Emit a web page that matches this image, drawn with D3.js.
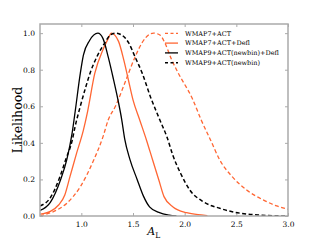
<!DOCTYPE html>
<html lang="en">

<head>
    <meta charset="UTF-8">
    <title>Lensing amplitude likelihood</title>
    <script src="https://cdn.jsdelivr.net/npm/d3@7"></script>

    <style>
        body { margin: 0; background: #fff; }
        text { font-family: "DejaVu Serif", serif; fill: #000; }
        .frame { fill: none; stroke: #aaa; stroke-width: 1.5px; }
        .tick line { stroke: #aaa; }
        .curve { fill: none; stroke-linejoin: round; }
    </style>
</head>

<body>

    <svg width="320" height="240"></svg>

    <script>

        // values: [A_L, likelihood]
        var wmap7Act = [[0.60, 0.002], [0.73, 0.024], [0.86, 0.07], [0.99, 0.16], [1.12, 0.306],
            [1.21, 0.434], [1.26, 0.525], [1.33, 0.60], [1.42, 0.726], [1.52, 0.87], [1.585, 0.945],
            [1.665, 0.995], [1.70, 1.0], [1.76, 0.99], [1.81, 0.945], [1.87, 0.86], [1.93, 0.79],
            [2.08, 0.635], [2.16, 0.525], [2.25, 0.416], [2.34, 0.306], [2.46, 0.215], [2.60, 0.142],
            [2.76, 0.088], [2.89, 0.055], [3.0, 0.037]];

        var wmap7ActDefl = [[0.60, 0.01], [0.70, 0.025], [0.78, 0.06], [0.84, 0.115], [0.89, 0.215],
            [0.955, 0.345], [1.02, 0.47], [1.06, 0.57], [1.13, 0.78], [1.21, 0.91], [1.26, 0.97],
            [1.29, 1.0], [1.36, 0.955], [1.41, 0.855], [1.455, 0.745], [1.50, 0.635], [1.565, 0.525],
            [1.63, 0.416], [1.69, 0.306], [1.75, 0.197], [1.80, 0.106], [1.89, 0.048], [2.02, 0.018],
            [2.18, 0.005], [2.22, 0.002]];

        var wmap9NewbinDefl = [[0.60, 0.03], [0.70, 0.075], [0.80, 0.20], [0.86, 0.31], [0.91, 0.45],
            [0.94, 0.57], [0.99, 0.78], [1.02, 0.88], [1.08, 0.96], [1.16, 1.0], [1.21, 0.97],
            [1.26, 0.87], [1.31, 0.75], [1.36, 0.62], [1.39, 0.53], [1.42, 0.42], [1.47, 0.31],
            [1.54, 0.20], [1.60, 0.11], [1.66, 0.05], [1.75, 0.02], [1.85, 0.005], [1.92, 0.0]];

        var wmap9Newbin = [[0.60, 0.055], [0.70, 0.10], [0.79, 0.21], [0.85, 0.31], [0.91, 0.41],
            [0.94, 0.49], [0.99, 0.60], [1.04, 0.70], [1.09, 0.79], [1.15, 0.87], [1.23, 0.95],
            [1.28, 0.99], [1.33, 1.0], [1.39, 0.99], [1.46, 0.945], [1.52, 0.87], [1.59, 0.78],
            [1.67, 0.65], [1.76, 0.525], [1.83, 0.43], [1.89, 0.325], [1.96, 0.234], [2.05, 0.142],
            [2.18, 0.078], [2.34, 0.042], [2.54, 0.015], [2.73, 0.005], [3.0, 0.0]];

        var seriesNames = ["WMAP7+ACT", "WMAP7+ACT+Defl", "WMAP9+ACT(newbin)+Defl", "WMAP9+ACT(newbin)"];
        var xTicks = [1.0, 1.5, 2.0, 2.5, 3.0];
        var yTicks = [0.0, 0.2, 0.4, 0.6, 0.8, 1.0];

        var series = [
            { name: seriesNames[0], values: wmap7Act, color: "#ff6633", dash: "4,2.5", width: 1.3 },
            { name: seriesNames[1], values: wmap7ActDefl, color: "#ff6633", dash: null, width: 1.3 },
            { name: seriesNames[2], values: wmap9NewbinDefl, color: "#000", dash: null, width: 1.3 },
            { name: seriesNames[3], values: wmap9Newbin, color: "#000", dash: "4,2.5", width: 1.5 }
        ];

        var svg = d3.select("svg"),
            margin = { top: 24, right: 32, bottom: 24, left: 40 },
            width = +svg.attr("width") - margin.left - margin.right,
            height = +svg.attr("height") - margin.top - margin.bottom;

        var x = d3.scaleLinear().domain([0.6, 3.0]).range([0, width]);
        var y = d3.scaleLinear().domain([0, 1.05]).range([height, 0]);

        var g = svg.append("g")
            .attr("transform", "translate(" + margin.left + "," + margin.top + ")");

        g.append("defs").append("clipPath").attr("id", "plotClip")
            .append("rect").attr("width", width).attr("height", height);

        // axes with inward ticks on all four sides
        function styleAxis(sel, showLabels) {
            sel.select(".domain").remove();
            sel.selectAll(".tick text")
                .style("font-size", "7.5px")
                .style("display", showLabels ? null : "none");
        }

        g.append("g")
            .attr("transform", "translate(0," + height + ")")
            .call(d3.axisBottom(x).tickValues(xTicks).tickFormat(d3.format(".1f")).tickSizeInner(-3).tickPadding(6))
            .call(styleAxis, true);

        g.append("g")
            .call(d3.axisTop(x).tickValues(xTicks).tickSizeInner(-3))
            .call(styleAxis, false);

        g.append("g")
            .call(d3.axisLeft(y).tickValues(yTicks).tickFormat(d3.format(".1f")).tickSizeInner(-3).tickPadding(5))
            .call(styleAxis, true);

        g.append("g")
            .attr("transform", "translate(" + width + ",0)")
            .call(d3.axisRight(y).tickValues(yTicks).tickSizeInner(-3))
            .call(styleAxis, false);

        g.selectAll(".tick text").attr("fill", "#000");

        var line = d3.line()
            .x(function(d) { return x(d[0]); })
            .y(function(d) { return y(d[1]); })
            .curve(d3.curveMonotoneX);

        g.append("g")
            .attr("clip-path", "url(#plotClip)")
            .selectAll("path")
            .data(series)
            .enter().append("path")
            .attr("class", "curve")
            .attr("d", function(d) { return line(d.values); })
            .attr("stroke", function(d) { return d.color; })
            .attr("stroke-width", function(d) { return d.width; })
            .attr("stroke-dasharray", function(d) { return d.dash; });

        g.append("rect")
            .attr("class", "frame")
            .attr("width", width)
            .attr("height", height);

        // legend, no box
        var legend = g.append("g")
            .attr("transform", "translate(125,9.3)")
            .selectAll("g")
            .data(series)
            .enter().append("g")
            .attr("transform", function(d, i) { return "translate(0," + (i * 9.8) + ")"; });

        legend.append("line")
            .attr("x1", 0).attr("x2", 13)
            .attr("stroke", function(d) { return d.color; })
            .attr("stroke-width", function(d) { return d.width; })
            .attr("stroke-dasharray", function(d) { return d.dash ? "3,2.5" : null; });

        legend.append("text")
            .attr("x", 20)
            .attr("dy", "0.35em")
            .style("font-size", "6.5px")
            .text(function(d) { return d.name; });

        // axis titles
        svg.append("text")
            .attr("transform", "translate(22," + (margin.top + height / 2) + ") rotate(-90)")
            .attr("text-anchor", "middle")
            .style("font-size", "12.5px")
            .text("Likelihood");

        var xLabel = svg.append("text")
            .attr("x", margin.left + x(1.7))
            .attr("y", 235)
            .attr("text-anchor", "middle")
            .style("font-size", "11px");
        xLabel.append("tspan").style("font-style", "italic").text("A");
        xLabel.append("tspan").attr("dy", "2.5").style("font-size", "7.5px").text("L");

    </script>

</body>

</html>
